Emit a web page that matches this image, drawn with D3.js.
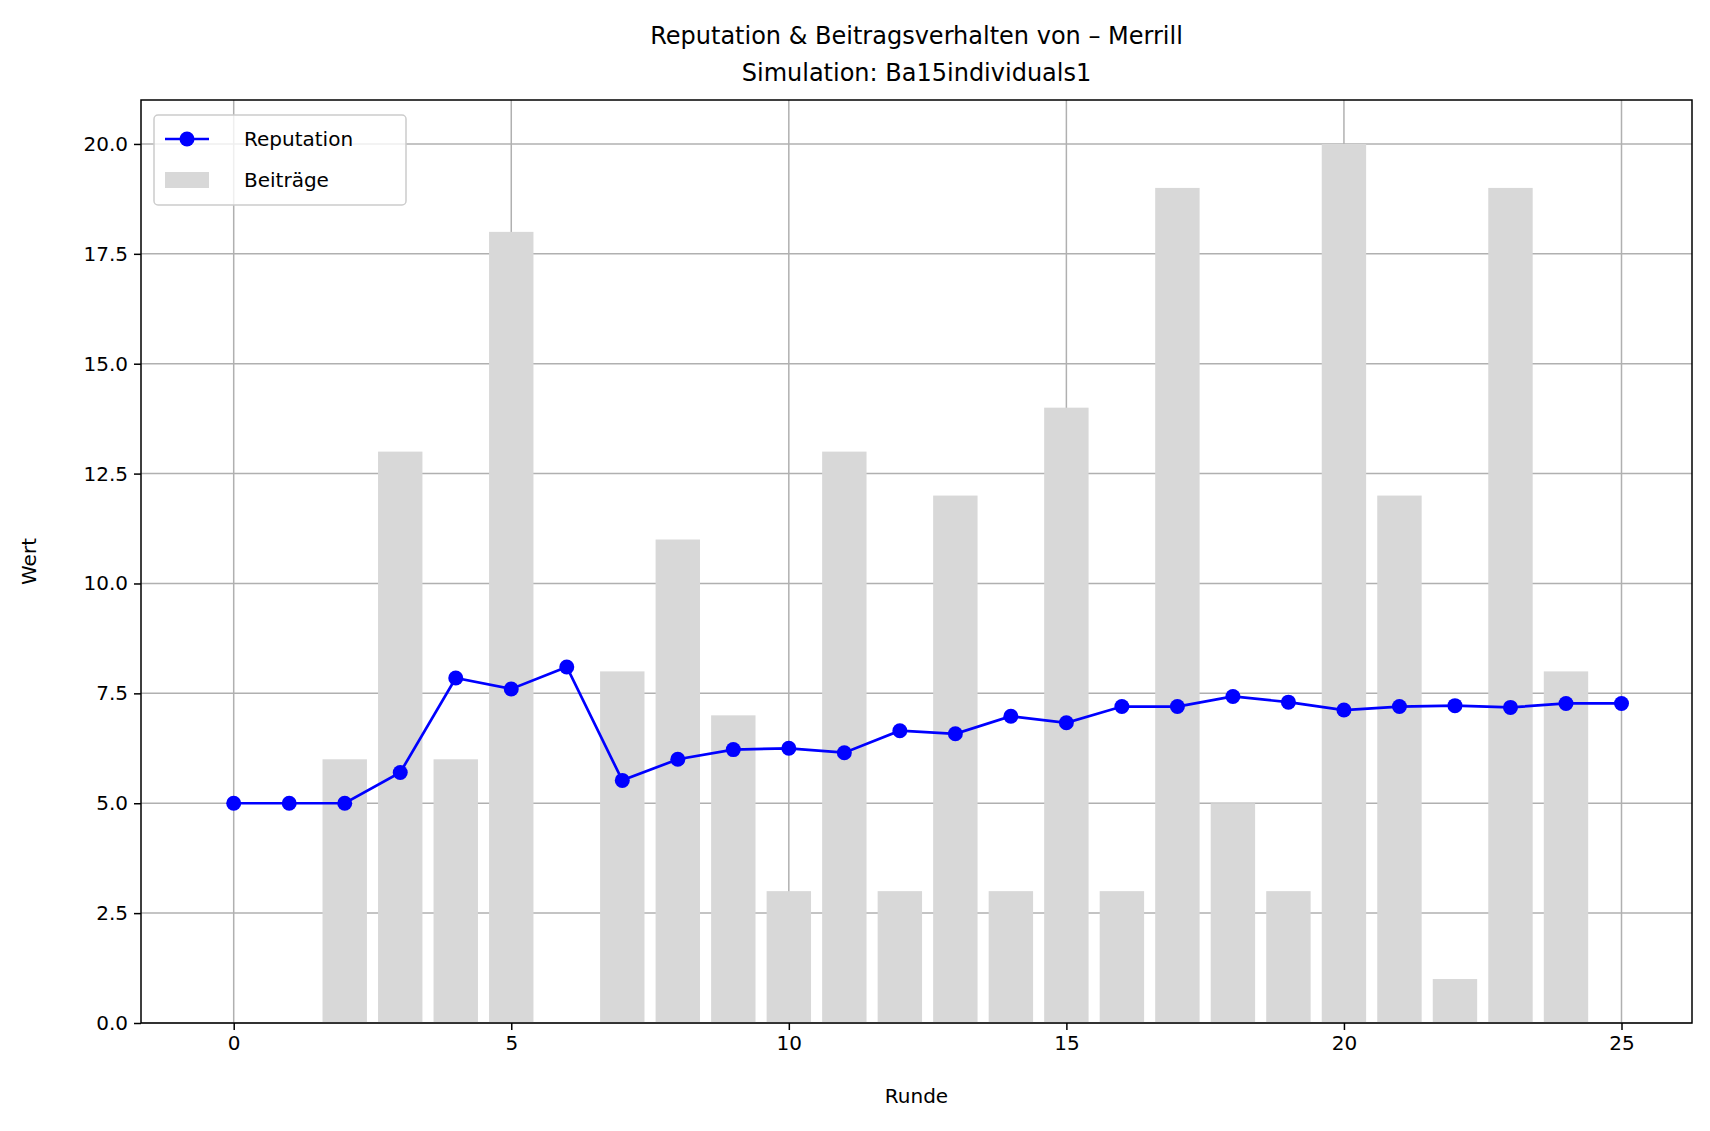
<!DOCTYPE html>
<html><head><meta charset="utf-8">
<script src="https://cdn.jsdelivr.net/npm/d3@7"></script>
<style>body{margin:0;background:#fff}text{font-family:"DejaVu Sans",sans-serif}</style>
</head><body>
<svg id="c" width="1710" height="1131"></svg>
<script>
// values
const rounds = d3.range(0, 26);
const beitraege = [0,0,6,13,6,18,0,8,11,7,3,13,3,12,3,14,3,19,5,3,20,12,1,19,8,0];
const reputation = [5,5,5,5.7,7.85,7.6,8.1,5.52,6,6.22,6.25,6.15,6.65,6.58,6.98,6.83,7.2,7.2,7.43,7.3,7.12,7.2,7.22,7.18,7.27,7.27];
const yTicks = [0,2.5,5,7.5,10,12.5,15,17.5,20];
const xTicks = [0,5,10,15,20,25];

const svg = d3.select("#c");
const L = 141, R = 1692, T = 100, B = 1023;
const x = d3.scaleLinear().domain([-1.67, 26.27]).range([L, R]);
const y = d3.scaleLinear().domain([0, 21]).range([B, T]);
const fs = 20;

// grid
svg.append("g").selectAll("line").data(xTicks).join("line")
  .attr("x1", d => x(d)).attr("x2", d => x(d)).attr("y1", T).attr("y2", B)
  .attr("stroke", "#b0b0b0").attr("stroke-width", 1.5);
svg.append("g").selectAll("line").data(yTicks).join("line")
  .attr("x1", L).attr("x2", R).attr("y1", d => y(d)).attr("y2", d => y(d))
  .attr("stroke", "#b0b0b0").attr("stroke-width", 1.5);

// bars
svg.append("g").selectAll("rect").data(rounds).join("rect")
  .attr("x", d => x(d - 0.4)).attr("width", x(0.8) - x(0))
  .attr("y", d => y(beitraege[d])).attr("height", d => B - y(beitraege[d]))
  .attr("fill", "#d8d8d8");

// line
const line = d3.line().x((d, i) => x(rounds[i])).y(d => y(d));
svg.append("path").datum(reputation).attr("d", line)
  .attr("fill", "none").attr("stroke", "#0000ff").attr("stroke-width", 2.7);
svg.append("g").selectAll("circle").data(reputation).join("circle")
  .attr("cx", (d, i) => x(rounds[i])).attr("cy", d => y(d)).attr("r", 7.5).attr("fill", "#0000ff");

// axes
const ax = svg.append("g").attr("transform", `translate(0,${B})`)
  .call(d3.axisBottom(x).tickValues(xTicks).tickSize(7).tickPadding(6).tickFormat(d3.format("d")));
const ay = svg.append("g").attr("transform", `translate(${L},0)`)
  .call(d3.axisLeft(y).tickValues(yTicks).tickSize(7).tickPadding(6).tickFormat(d3.format(".1f")));
[ax, ay].forEach(a => {
  a.select(".domain").remove();
  a.selectAll("text").attr("font-size", fs).attr("font-family", "DejaVu Sans").attr("fill", "#000");
  a.selectAll("line").attr("stroke", "#000").attr("stroke-width", 1.5);
});
svg.append("rect").attr("x", L).attr("y", T).attr("width", R - L).attr("height", B - T)
  .attr("fill", "none").attr("stroke", "#000").attr("stroke-width", 1.5);

// labels
svg.append("text").attr("x", (L + R) / 2).attr("y", 1103).attr("text-anchor", "middle").attr("font-size", fs).text("Runde");
svg.append("text").attr("transform", `translate(36,${(T + B) / 2}) rotate(-90)`).attr("text-anchor", "middle").attr("font-size", fs).text("Wert");
svg.append("text").attr("x", (L + R) / 2).attr("y", 44).attr("text-anchor", "middle").attr("font-size", 24).text("Reputation & Beitragsverhalten von – Merrill");
svg.append("text").attr("x", (L + R) / 2).attr("y", 81).attr("text-anchor", "middle").attr("font-size", 24).text("Simulation: Ba15individuals1");

// legend
const lg = svg.append("g").attr("transform", "translate(154,115)");
lg.append("rect").attr("width", 252).attr("height", 90).attr("rx", 4)
  .attr("fill", "#fff").attr("fill-opacity", 0.8).attr("stroke", "#ccc").attr("stroke-width", 1.5);
lg.append("line").attr("x1", 11).attr("x2", 55).attr("y1", 24).attr("y2", 24).attr("stroke", "#0000ff").attr("stroke-width", 2.7);
lg.append("circle").attr("cx", 33).attr("cy", 24).attr("r", 7.5).attr("fill", "#0000ff");
lg.append("text").attr("x", 90).attr("y", 31).attr("font-size", fs).text("Reputation");
lg.append("rect").attr("x", 11).attr("y", 57).attr("width", 44).attr("height", 16).attr("fill", "#d8d8d8");
lg.append("text").attr("x", 90).attr("y", 72).attr("font-size", fs).text("Beiträge");
</script>
</body></html>
